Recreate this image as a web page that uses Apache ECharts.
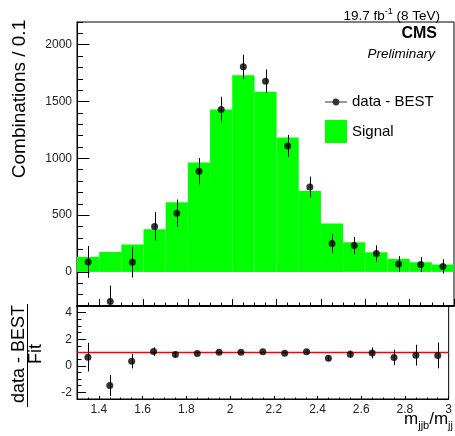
<!DOCTYPE html>
<html>
<head>
<meta charset="utf-8">
<script src="https://cdn.jsdelivr.net/npm/echarts@6/dist/echarts.min.js"></script>
<style>
html,body{margin:0;padding:0;background:#fff;}
#chart{width:455px;height:436px;}
</style>
</head>
<body>
<div id="chart"></div>
<script>
// ---------------- data ----------------
const xRange = [1.3, 3.0];
const binEdges = [1.3, 1.4, 1.5, 1.6, 1.7, 1.8, 1.9, 2.0, 2.1, 2.2, 2.3, 2.4, 2.5, 2.6, 2.7, 2.8, 2.9, 3.0];
const binCenters = [1.35, 1.45, 1.55, 1.65, 1.75, 1.85, 1.95, 2.05, 2.15, 2.25, 2.35, 2.45, 2.55, 2.65, 2.75, 2.85, 2.95];
const signalVals = [132, 176, 241, 376, 614, 963, 1430, 1731, 1585, 1183, 713, 426, 261, 173, 115, 85, 65];
const dataVals = [88, -261, 85, 400, 517, 887, 1430, 1805, 1679, 1109, 748, 250, 232, 162, 70, 65, 48];
const dataErrs = [140, 140, 135, 126, 120, 115, 112, 107, 103, 97, 91, 80, 76, 72, 69, 67, 63];
const ratioVals = [0.65, -1.49, 0.35, 1.07, 0.85, 0.92, 1.02, 1.02, 1.05, 0.95, 1.05, 0.57, 0.87, 0.97, 0.63, 0.80, 0.78];
const ratioErrs = [1.08, 0.80, 0.55, 0.32, 0.20, 0.12, 0.08, 0.07, 0.07, 0.09, 0.13, 0.19, 0.28, 0.41, 0.58, 0.78, 0.97];
const fitLevel = 1;

const xTickLabels = [1.4, 1.6, 1.8, 2.0, 2.2, 2.4, 2.6, 2.8, 3.0];
const yTickLabels = [0, 500, 1000, 1500, 2000];
const ratioTickLabels = [-2, 0, 2, 4];
const yRange = [-300, 2200];
const ratioRange = [-2.5, 4.5];
const xMinorStep = 0.05, yMinorStep = 100, ratioMinorStep = 0.5;

// ---------------- helpers ----------------
function steps(a, b, s) {
  const out = [];
  const n = Math.round((b - a) / s);
  for (let i = 0; i <= n; i++) out.push(+(a + i * s).toFixed(6));
  return out;
}
const FONT = 'Liberation Sans';
const LBL = '#222';

const chart = echarts.init(document.getElementById('chart'), null, {renderer: 'canvas'});

function majorAxis(gridIndex, min, max, ticks, len, labels, fontSize, isX, lineW) {
  return {
    type: 'value', gridIndex, min, max,
    position: isX ? 'bottom' : 'left',
    axisLine: {show: true, onZero: false, lineStyle: {color: '#000', width: lineW || 1}},
    axisTick: {show: true, inside: true, length: len, customValues: ticks, lineStyle: {color: '#000', width: 1}},
    axisLabel: labels ? {show: true, customValues: labels, fontSize, fontFamily: FONT, color: LBL, margin: 5,
                         formatter: function (v) { return String(v); }} : {show: false},
    splitLine: {show: false}
  };
}
function minorAxis(gridIndex, min, max, ticks, len, isX) {
  return {
    type: 'value', gridIndex, min, max, offset: 0,
    position: isX ? 'bottom' : 'left',
    axisLine: {show: false, onZero: false},
    axisTick: {show: true, inside: true, length: len, customValues: ticks, lineStyle: {color: '#000', width: 1}},
    axisLabel: {show: false},
    splitLine: {show: false}
  };
}

function errorBarItem(params, api) {
  const x = api.value(0);
  const lo = api.value(1), hi = api.value(2);
  const p1 = api.coord([x, lo]);
  const p2 = api.coord([x, hi]);
  const cs = params.coordSys;
  const top = cs.y, bot = cs.y + cs.height;
  const y1 = Math.min(Math.max(p1[1], top), bot);
  const y2 = Math.min(Math.max(p2[1], top), bot);
  return {type: 'line', shape: {x1: Math.round(p1[0]) + 0.5, y1, x2: Math.round(p1[0]) + 0.5, y2},
          style: {stroke: '#000', lineWidth: 1}};
}

const dataIcon = 'path://M0,3.4H7.55A3.5,3.5 0 0 1 14.45,3.4H22V4.6H14.45A3.5,3.5 0 0 1 7.55,4.6H0Z';

const option = {
  animation: false,
  backgroundColor: '#fff',
  grid: [
    {left: 77, top: 22, width: 377, height: 284, show: true, borderColor: '#000', borderWidth: 1, backgroundColor: 'transparent', containLabel: false},
    {left: 77, top: 306, width: 377, height: 93, show: true, borderColor: '#000', borderWidth: 1, backgroundColor: 'transparent', containLabel: false}
  ],
  xAxis: [
    majorAxis(0, xRange[0], xRange[1], xTickLabels, 7, null, 0, true, 2),
    minorAxis(0, xRange[0], xRange[1], steps(xRange[0], xRange[1], xMinorStep), 3.5, true),
    majorAxis(1, xRange[0], xRange[1], xTickLabels, 3, xTickLabels, 12, true),
    minorAxis(1, xRange[0], xRange[1], steps(xRange[0], xRange[1], xMinorStep), 1.5, true)
  ],
  yAxis: [
    majorAxis(0, yRange[0], yRange[1], yTickLabels, 12.5, yTickLabels, 12, false),
    minorAxis(0, yRange[0], yRange[1], steps(yRange[0], yRange[1], yMinorStep), 6, false),
    majorAxis(1, ratioRange[0], ratioRange[1], ratioTickLabels, 9, ratioTickLabels, 12, false),
    minorAxis(1, ratioRange[0], ratioRange[1], steps(ratioRange[0], ratioRange[1], ratioMinorStep), 4.5, false)
  ],
  legend: [
    {data: [{name: 'data - BEST', icon: dataIcon}], left: 325, top: 94.5, padding: 0, itemWidth: 22, itemHeight: 7,
     textStyle: {fontSize: 15, fontFamily: FONT, color: '#000'}, selectedMode: false},
    {data: [{name: 'Signal', icon: 'rect'}], left: 325, top: 120, padding: 0, itemWidth: 22, itemHeight: 23,
     textStyle: {fontSize: 15, fontFamily: FONT, color: '#000'}, selectedMode: false}
  ],
  series: [
    {
      name: 'Signal', type: 'custom', xAxisIndex: 0, yAxisIndex: 0,
      itemStyle: {color: '#00ff00'},
      encode: {x: [0, 1], y: 2},
      data: signalVals.map((v, i) => [binEdges[i], binEdges[i + 1], v]),
      renderItem: function (params, api) {
        const a = api.coord([api.value(0), api.value(2)]);
        const b = api.coord([api.value(1), 0]);
        return {type: 'rect', shape: {x: a[0], y: a[1], width: b[0] - a[0], height: b[1] - a[1]},
                style: {fill: '#00ff00'}};
      },
      z: 1
    },
    {
      name: 'errTop', type: 'custom', xAxisIndex: 0, yAxisIndex: 0,
      encode: {x: 0, y: [1, 2]},
      data: dataVals.map((v, i) => [binCenters[i], v - dataErrs[i], v + dataErrs[i]]),
      renderItem: errorBarItem, z: 3
    },
    {
      name: 'data - BEST', type: 'scatter', xAxisIndex: 0, yAxisIndex: 0,
      symbol: 'circle', symbolSize: 7, itemStyle: {color: '#000'},
      data: dataVals.map((v, i) => [binCenters[i], v]), z: 4
    },
    {
      name: 'fit', type: 'line', xAxisIndex: 2, yAxisIndex: 2, symbol: 'none',
      lineStyle: {color: '#ff0000', width: 1.5},
      data: [[xRange[0], fitLevel], [xRange[1], fitLevel]], z: 2
    },
    {
      name: 'errRatio', type: 'custom', xAxisIndex: 2, yAxisIndex: 2,
      encode: {x: 0, y: [1, 2]},
      data: ratioVals.map((v, i) => [binCenters[i], v - ratioErrs[i], v + ratioErrs[i]]),
      renderItem: errorBarItem, z: 3
    },
    {
      name: 'ratio', type: 'scatter', xAxisIndex: 2, yAxisIndex: 2,
      symbol: 'circle', symbolSize: 7, itemStyle: {color: '#000'},
      data: ratioVals.map((v, i) => [binCenters[i], v]), z: 4
    }
  ],
  graphic: [
    {type: 'text', x: 440, y: 15, style: {
      text: '{a|19.7 fb}{s|-1}{a| (8 TeV)}', align: 'right', verticalAlign: 'middle',
      rich: {a: {fontSize: 13.5, fontFamily: FONT, fill: '#000', lineHeight: 16, verticalAlign: 'bottom'},
             s: {fontSize: 9, fontFamily: FONT, fill: '#000', lineHeight: 9, verticalAlign: 'top'}}}},
    {type: 'text', x: 437, y: 34, style: {text: 'CMS', fontSize: 16, fontWeight: 'bold', fontFamily: FONT, fill: '#000', align: 'right', verticalAlign: 'middle'}},
    {type: 'text', x: 435, y: 54, style: {text: 'Preliminary', fontSize: 13.5, fontStyle: 'italic', fontFamily: FONT, fill: '#000', align: 'right', verticalAlign: 'middle'}},
    {type: 'text', x: 19.5, y: 99, rotation: Math.PI / 2, style: {text: 'Combinations / 0.1', fontSize: 19, fontFamily: FONT, fill: '#000', align: 'center', verticalAlign: 'middle'}},
    {type: 'text', x: 19, y: 354, rotation: Math.PI / 2, style: {text: 'data - BEST', fontSize: 18, fontFamily: FONT, fill: '#000', align: 'center', verticalAlign: 'middle'}},
    {type: 'line', shape: {x1: 27.5, y1: 304, x2: 27.5, y2: 407}, style: {stroke: '#000', lineWidth: 1}},
    {type: 'text', x: 36, y: 354, rotation: Math.PI / 2, style: {text: 'Fit', fontSize: 18, fontFamily: FONT, fill: '#000', align: 'center', verticalAlign: 'middle'}},
    {type: 'text', x: 453, y: 411, style: {
      text: '{m|m}{s|jjb}{m|/m}{s|jj}', align: 'right', verticalAlign: 'top',
      rich: {m: {fontSize: 17, fontFamily: FONT, fill: '#000', lineHeight: 20, verticalAlign: 'top'},
             s: {fontSize: 11, fontFamily: FONT, fill: '#000', lineHeight: 11, verticalAlign: 'bottom'}}}}
  ]
};
chart.setOption(option);
</script>
</body>
</html>
